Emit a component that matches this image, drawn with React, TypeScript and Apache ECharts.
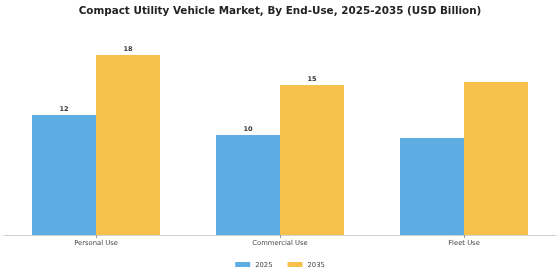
import React, { useEffect, useRef } from "react";
import * as echarts from "echarts";

const categories = ["Personal Use", "Commercial Use", "Fleet Use"];
const values2025 = [12, 10, 9.7];
const values2035 = [18, 15, 15.3];
const labeled2025 = [true, true, false];
const labeled2035 = [true, true, false];

export default function App() {
  const ref = useRef<HTMLDivElement>(null);
  useEffect(() => {
    if (!ref.current) return;
    const chart = echarts.init(ref.current, undefined, { renderer: "svg" });
    const labelStyle = {
      show: true,
      position: "top",
      distance: 3,
      fontSize: 6.5,
      fontWeight: "bold",
      color: "#333",
      fontFamily: "DejaVu Sans",
    };
    chart.setOption({
      animation: false,
      title: {
        text: "Compact Utility Vehicle Market, By End-Use, 2025-2035 (USD Billion)",
        left: "center",
        top: 5,
        padding: 0,
        textStyle: { fontSize: 10.4, fontWeight: "bold", color: "#222", fontFamily: "DejaVu Sans" },
      },
      legend: {
        top: 261,
        left: "center",
        itemWidth: 15,
        itemHeight: 5,
        itemGap: 15,
        padding: 0,
        icon: "rect",
        textStyle: { fontSize: 6.8, color: "#444", fontFamily: "DejaVu Sans" },
        data: ["2025", "2035"],
      },
      grid: { left: 4, right: 4, top: 35, bottom: 45, containLabel: false },
      xAxis: {
        type: "category",
        data: categories,
        axisLine: { lineStyle: { color: "#d0d0d0" } },
        axisTick: { show: true, alignWithLabel: true, length: 3, lineStyle: { color: "#999" } },
        axisLabel: { fontSize: 6.8, color: "#444", margin: 4, fontFamily: "DejaVu Sans" },
      },
      yAxis: {
        type: "value",
        min: 0,
        max: 20,
        show: false,
        splitLine: { show: false },
      },
      series: [
        {
          name: "2025",
          type: "bar",
          barWidth: 64,
          barGap: "0%",
          itemStyle: { color: "#5DADE2" },
          data: values2025.map((v, i) => ({ value: v, label: { ...labelStyle, show: labeled2025[i] } })),
        },
        {
          name: "2035",
          type: "bar",
          barWidth: 64,
          barGap: "0%",
          itemStyle: { color: "#F5C14B" },
          data: values2035.map((v, i) => ({ value: v, label: { ...labelStyle, show: labeled2035[i] } })),
        },
      ],
    });
    return () => chart.dispose();
  }, []);
  return (
    <div
      ref={ref}
      style={{ position: "fixed", left: 0, top: 0, width: 560, height: 280 }}
    />
  );
}
